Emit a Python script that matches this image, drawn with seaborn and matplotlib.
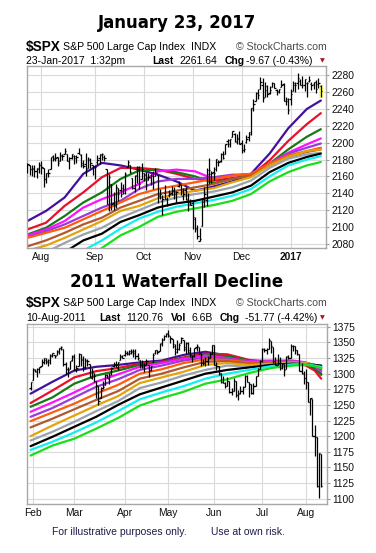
import numpy as np
import pandas as pd
import matplotlib
matplotlib.use('Agg')
import matplotlib.pyplot as plt
import seaborn as sns

sns.set_style('white')
plt.rcParams['font.family'] = ['Liberation Sans', 'DejaVu Sans']
plt.rcParams['text.color'] = 'black'

# ---------------- panel 1: Jul 2016 - Jan 2017 ----------------
days_a = pd.bdate_range('2016-07-22', '2017-01-23', freq='C',
                        holidays=['2016-09-05', '2016-11-24', '2016-12-26',
                                  '2017-01-02', '2017-01-16'])

open_a = [2166.5, 2173.7, 2168.9, 2169.8, 2166.1, 2168.8,
          2173.2, 2169.9, 2156.8, 2163.5, 2168.8, 2183.8, 2182.2, 2182.8, 2177.9, 2183.7, 2186.1, 2186.2,
          2177.8, 2181.9, 2184.2, 2181.6, 2187.8, 2185.1, 2173.3, 2175.1, 2170.2, 2179.5, 2173.6,
          2171.3, 2177.5, 2181.6, 2185.2, 2182.8, 2169.1, 2120.9, 2150.5, 2127.9, 2125.4, 2146.5,
          2144.0, 2145.9, 2144.6, 2170.9, 2173.3, 2158.5, 2146.0, 2161.9, 2168.9, 2156.5,
          2164.3, 2163.4, 2155.2, 2158.2, 2164.2, 2160.4, 2161.4, 2137.7, 2130.3, 2139.7, 2133.0,
          2138.3, 2140.8, 2142.5, 2139.4, 2148.5, 2149.7, 2137.0, 2144.1, 2132.2, 2129.8,
          2128.7, 2109.4, 2098.8, 2083.8, 2100.6, 2129.9, 2131.6, 2167.5, 2162.7, 2165.6, 2168.3,
          2177.5, 2178.6, 2186.8, 2186.4, 2201.6, 2198.6, 2206.3, 2210.2, 2200.8, 2205.0,
          2200.2, 2191.1, 2200.7, 2207.3, 2210.7, 2241.1, 2249.7, 2258.8, 2263.3, 2268.4, 2253.8,
          2266.8, 2259.2, 2266.5, 2270.5, 2262.9, 2260.3, 2266.2, 2270.2, 2249.5, 2251.6,
          2251.6, 2261.6, 2268.2, 2271.1, 2273.6, 2268.6, 2268.6, 2271.1, 2272.7, 2269.1, 2269.1,
          2271.9, 2270.0, 2267.8]
high_a = [2175.6, 2173.7, 2173.5, 2174.0, 2170.2, 2177.1,
          2178.3, 2170.2, 2163.8, 2168.2, 2182.9, 2185.4, 2187.7, 2183.4, 2188.5, 2186.3, 2193.8, 2186.2,
          2183.1, 2187.0, 2185.0, 2185.2, 2193.4, 2186.7, 2179.0, 2187.9, 2183.5, 2182.3, 2173.8,
          2173.6, 2184.9, 2186.6, 2187.9, 2184.9, 2169.1, 2163.3, 2150.5, 2141.3, 2151.3, 2146.5,
          2153.6, 2150.8, 2165.1, 2180.0, 2173.8, 2158.5, 2161.1, 2172.4, 2172.7, 2175.3,
          2164.4, 2165.5, 2163.9, 2162.9, 2165.9, 2169.6, 2161.6, 2145.4, 2138.2, 2149.2, 2135.6,
          2144.4, 2148.4, 2147.2, 2142.6, 2154.8, 2151.4, 2145.7, 2147.1, 2140.7, 2133.3,
          2131.5, 2111.8, 2102.6, 2099.1, 2132.0, 2146.9, 2170.1, 2182.3, 2165.9, 2171.4, 2180.8,
          2179.2, 2188.1, 2189.9, 2198.7, 2204.8, 2204.7, 2213.4, 2211.1, 2210.5, 2214.1,
          2202.6, 2198.0, 2209.4, 2212.8, 2241.6, 2251.7, 2259.8, 2264.0, 2277.5, 2276.2, 2272.1,
          2268.1, 2267.5, 2272.6, 2271.2, 2263.2, 2263.8, 2273.8, 2271.3, 2254.5, 2253.6,
          2263.9, 2272.8, 2271.5, 2282.1, 2275.5, 2279.3, 2275.3, 2271.8, 2278.7, 2272.1, 2272.0,
          2274.3, 2277.0, 2268.0]
low_a = [2164.0, 2161.4, 2160.2, 2159.1, 2157.8, 2163.5,
         2163.3, 2147.6, 2152.6, 2159.1, 2168.8, 2177.9, 2178.6, 2172.0, 2177.9, 2179.4, 2186.1, 2178.1,
         2168.5, 2180.5, 2175.1, 2176.0, 2186.8, 2171.3, 2169.7, 2160.4, 2170.2, 2170.4, 2161.4,
         2157.1, 2173.6, 2175.1, 2179.1, 2177.9, 2127.8, 2119.1, 2120.3, 2119.6, 2122.4, 2131.2,
         2135.9, 2139.2, 2139.6, 2170.9, 2164.0, 2145.0, 2141.6, 2151.8, 2145.2, 2156.5,
         2154.8, 2144.0, 2155.2, 2150.3, 2144.9, 2160.4, 2128.8, 2132.8, 2114.7, 2133.0, 2124.4,
         2135.5, 2138.2, 2133.4, 2130.1, 2146.9, 2137.4, 2131.6, 2132.5, 2119.4, 2125.5,
         2097.9, 2094.0, 2085.2, 2083.8, 2100.6, 2123.6, 2125.4, 2151.2, 2152.5, 2156.1, 2166.4,
         2172.2, 2176.6, 2180.4, 2186.4, 2194.5, 2194.5, 2206.3, 2200.4, 2198.9, 2198.8,
         2187.4, 2188.4, 2200.0, 2202.5, 2208.9, 2237.6, 2249.2, 2252.4, 2263.3, 2248.4, 2253.8,
         2254.2, 2258.2, 2266.2, 2265.2, 2256.1, 2258.8, 2266.2, 2249.1, 2244.6, 2233.6,
         2245.1, 2261.6, 2260.5, 2264.1, 2268.8, 2265.3, 2260.8, 2254.3, 2271.5, 2262.8, 2263.4,
         2258.4, 2265.0, 2254.8]
close_a = [2175.0, 2168.5, 2169.2, 2166.6, 2170.1, 2173.6,
           2170.8, 2157.0, 2163.8, 2164.3, 2182.9, 2180.9, 2181.7, 2175.5, 2185.8, 2184.1, 2190.2, 2178.2,
           2182.2, 2187.0, 2183.9, 2182.6, 2186.9, 2175.4, 2172.5, 2169.0, 2180.4, 2176.1, 2171.0,
           2170.9, 2180.0, 2186.5, 2186.2, 2181.3, 2127.8, 2159.0, 2127.0, 2125.8, 2147.3, 2139.2,
           2139.1, 2139.8, 2163.1, 2177.2, 2164.7, 2146.1, 2159.9, 2171.4, 2151.1, 2168.3,
           2161.2, 2150.5, 2159.7, 2160.8, 2153.7, 2163.7, 2136.7, 2139.2, 2132.6, 2133.0, 2126.5,
           2139.6, 2144.3, 2141.3, 2141.2, 2151.3, 2143.2, 2139.4, 2133.0, 2126.4, 2126.2,
           2111.7, 2097.9, 2088.7, 2085.2, 2131.5, 2139.6, 2163.3, 2167.5, 2164.5, 2164.2, 2180.4,
           2176.9, 2187.1, 2181.9, 2198.2, 2202.9, 2204.7, 2213.4, 2201.7, 2204.7, 2198.8,
           2191.1, 2192.0, 2204.7, 2212.2, 2241.4, 2246.2, 2259.5, 2257.0, 2271.7, 2253.3, 2262.0,
           2258.1, 2262.5, 2270.8, 2265.2, 2261.0, 2263.8, 2268.9, 2249.9, 2249.3, 2238.8,
           2257.8, 2270.8, 2269.0, 2277.0, 2268.9, 2268.9, 2275.3, 2270.4, 2274.6, 2267.9, 2271.9,
           2263.7, 2271.3, 2261.6]

# moving averages read at these trading-day positions
ma_days_a = [0, 8, 16, 24, 32, 40, 48, 56, 64, 72, 80, 88, 96, 104, 112, 120, 126]
indigo_a = [2107, 2119, 2135, 2163, 2176, 2173, 2168, 2162, 2154, 2143, 2148, 2154, 2163, 2187, 2217, 2240, 2250]
red_a = [2097, 2105, 2125, 2141, 2159, 2170, 2170, 2168, 2163, 2157, 2155, 2158, 2161, 2179, 2202, 2222, 2235]
green_a = [2091, 2099, 2113, 2129, 2141, 2157, 2167, 2168, 2165, 2160, 2152, 2157, 2161, 2175, 2192, 2207, 2216]
magenta_a = [2090, 2097, 2107, 2123, 2133, 2141, 2151, 2166, 2168, 2166, 2157, 2161, 2163, 2175, 2188, 2198, 2205]
purple_a = [2088, 2095, 2103, 2113, 2123, 2131, 2145, 2154, 2157, 2157, 2159, 2162, 2162, 2173, 2187, 2194, 2199]
orange_a = [2087, 2093, 2099, 2109, 2119, 2129, 2139, 2145, 2149, 2153, 2157, 2161, 2163, 2175, 2185, 2190, 2194]
brown_a = [2077, 2084, 2093, 2103, 2111, 2123, 2131, 2139, 2143, 2147, 2151, 2157, 2161, 2173, 2183, 2189, 2192]
gold_a = [2072, 2078, 2087, 2097, 2107, 2119, 2125, 2134, 2139, 2143, 2146, 2153, 2159, 2173, 2183, 2190, 2192]
gray_a = [2062, 2070, 2081, 2091, 2099, 2111, 2120, 2129, 2135, 2139, 2142, 2147, 2155, 2170, 2181, 2186, 2188]
black_a = [2045, 2057, 2070, 2084, 2092, 2106, 2114, 2123, 2128, 2131, 2136, 2141, 2149, 2165, 2176, 2183, 2187]
cyan_a = [2030, 2042, 2056, 2072, 2084, 2098, 2110, 2118, 2124, 2128, 2132, 2137, 2145, 2160, 2173, 2180, 2184]
lime_a = [2020, 2032, 2045, 2060, 2075, 2090, 2100, 2112, 2118, 2122, 2126, 2131, 2139, 2154, 2165, 2173, 2177]

# ---------------- panel 2: Jan 2011 - Aug 2011 ----------------
days_b = pd.bdate_range('2011-01-31', '2011-08-10', freq='C',
                        holidays=['2011-02-21', '2011-04-22', '2011-05-30', '2011-07-04'])

open_b = [1276.5,
          1289.1, 1305.9, 1302.8, 1307.0, 1311.9, 1318.8, 1322.5, 1318.1, 1318.7, 1328.7, 1330.4, 1329.5,
          1334.4, 1340.4, 1338.9, 1315.4, 1307.1, 1307.3, 1321.6,
          1328.6, 1305.5, 1312.4, 1330.7, 1322.7, 1311.1, 1319.9, 1315.7, 1293.4, 1301.2, 1288.5, 1279.5,
          1261.6, 1276.7, 1282.0, 1298.3, 1292.2, 1300.6, 1311.8, 1315.5, 1309.4, 1321.9, 1327.4,
          1329.5, 1333.6, 1332.0, 1335.9, 1334.8, 1336.2, 1329.0, 1322.0, 1314.0, 1311.1, 1314.5, 1313.4,
          1306.0, 1319.1, 1333.2, 1337.1, 1336.8, 1348.4, 1353.9, 1360.1,
          1365.2, 1359.8, 1355.9, 1344.2, 1340.2, 1340.2, 1348.3, 1354.5, 1339.4, 1348.7, 1334.8, 1326.1,
          1328.5, 1342.4, 1342.0, 1333.1, 1317.7, 1316.4, 1320.6, 1325.7, 1331.1,
          1345.2, 1314.6, 1312.9, 1300.3, 1286.3, 1284.6, 1279.6, 1288.3, 1271.3, 1272.2, 1287.9, 1265.5,
          1268.6, 1271.5, 1278.4, 1295.5, 1286.6, 1283.0, 1268.4, 1280.2, 1296.8, 1307.6,
          1320.6, 1339.6, 1337.6, 1339.6, 1352.4, 1343.3, 1319.6, 1314.5, 1317.7, 1308.9, 1315.9, 1307.1,
          1328.7, 1325.7, 1343.8, 1344.3, 1337.4, 1331.9, 1304.8, 1300.1,
          1292.6, 1286.6, 1254.3, 1260.2, 1200.3, 1198.5, 1120.2, 1171.8]
high_b = [1287.2,
          1308.9, 1307.6, 1308.6, 1311.0, 1322.9, 1324.9, 1324.5, 1322.8, 1330.8, 1333.0, 1330.4, 1337.6,
          1341.5, 1344.1, 1338.9, 1317.9, 1310.9, 1320.6, 1329.4,
          1332.1, 1314.2, 1332.3, 1331.1, 1327.7, 1325.7, 1323.2, 1315.7, 1308.4, 1301.2, 1288.5, 1280.9,
          1278.9, 1288.9, 1299.2, 1299.4, 1300.5, 1311.3, 1319.2, 1319.7, 1319.4, 1331.7, 1329.8,
          1337.9, 1336.7, 1338.2, 1339.4, 1338.8, 1339.5, 1333.2, 1322.0, 1321.4, 1316.8, 1322.9, 1313.4,
          1313.0, 1332.7, 1337.5, 1337.6, 1349.6, 1357.5, 1361.7, 1364.6,
          1370.6, 1360.8, 1355.9, 1348.0, 1354.4, 1349.4, 1359.4, 1354.5, 1351.1, 1350.5, 1343.3, 1330.4,
          1341.8, 1346.8, 1342.0, 1333.1, 1323.7, 1325.9, 1328.5, 1334.6, 1345.2,
          1345.2, 1318.0, 1312.9, 1300.3, 1296.2, 1287.0, 1294.5, 1288.3, 1277.0, 1292.5, 1287.9, 1274.1,
          1279.8, 1280.4, 1297.6, 1298.6, 1286.6, 1283.9, 1284.9, 1296.8, 1309.2, 1322.0,
          1341.0, 1340.9, 1340.9, 1356.5, 1352.4, 1343.3, 1327.2, 1331.5, 1326.9, 1317.7, 1315.9, 1328.1,
          1330.4, 1347.0, 1346.1, 1344.3, 1338.5, 1331.9, 1316.3, 1304.2,
          1307.4, 1286.6, 1261.2, 1260.2, 1218.1, 1198.5, 1172.9, 1171.8]
low_b = [1274.0,
         1289.1, 1302.6, 1294.8, 1301.7, 1311.9, 1316.0, 1314.9, 1311.7, 1316.1, 1326.9, 1324.6, 1329.5,
         1331.0, 1338.1, 1312.3, 1299.6, 1294.3, 1307.3, 1320.6,
         1306.1, 1302.6, 1312.4, 1312.6, 1304.0, 1306.9, 1312.3, 1294.2, 1292.0, 1286.4, 1261.1, 1249.1,
         1261.6, 1276.2, 1282.0, 1292.7, 1284.1, 1297.7, 1310.2, 1310.2, 1305.3, 1321.9, 1325.0,
         1328.9, 1329.1, 1330.0, 1331.1, 1326.6, 1322.9, 1321.8, 1309.5, 1309.2, 1302.4, 1313.7, 1294.7,
         1304.0, 1319.1, 1332.0, 1331.5, 1336.8, 1344.3, 1353.6, 1358.7,
         1358.6, 1349.5, 1341.5, 1329.2, 1333.6, 1338.6, 1348.3, 1336.4, 1332.0, 1333.4, 1327.3, 1318.5,
         1326.6, 1336.9, 1330.7, 1312.9, 1313.9, 1311.8, 1314.4, 1325.7, 1331.1,
         1313.7, 1305.6, 1297.9, 1284.7, 1284.7, 1277.4, 1279.6, 1268.3, 1265.6, 1272.2, 1261.9, 1258.1,
         1267.4, 1267.6, 1278.4, 1286.8, 1262.9, 1267.2, 1267.5, 1280.2, 1296.8, 1307.6,
         1318.2, 1334.3, 1330.9, 1339.6, 1333.7, 1316.4, 1313.3, 1314.5, 1306.5, 1307.4, 1295.9, 1307.1,
         1323.7, 1325.7, 1337.0, 1331.1, 1329.6, 1303.5, 1299.2, 1282.9,
         1274.7, 1254.0, 1234.6, 1199.5, 1168.1, 1119.3, 1101.5, 1118.0]
close_b = [1286.1,
           1307.6, 1304.0, 1307.1, 1310.9, 1319.1, 1324.6, 1320.9, 1321.9, 1329.2, 1332.3, 1328.0, 1336.3,
           1340.4, 1343.0, 1315.4, 1307.4, 1306.1, 1319.9, 1327.2,
           1306.3, 1308.4, 1331.0, 1321.2, 1310.1, 1321.8, 1320.0, 1295.1, 1304.3, 1296.4, 1281.9, 1256.9,
           1273.7, 1279.2, 1298.4, 1293.8, 1297.5, 1309.7, 1313.8, 1310.2, 1319.4, 1328.3, 1325.8,
           1332.4, 1332.9, 1332.6, 1335.5, 1333.5, 1328.2, 1324.5, 1314.2, 1314.4, 1314.5, 1319.7, 1305.1,
           1312.6, 1330.4, 1337.4, 1335.3, 1347.2, 1355.7, 1360.5, 1363.6,
           1361.2, 1356.6, 1347.3, 1335.1, 1340.2, 1346.3, 1357.2, 1342.1, 1348.7, 1337.8, 1329.5, 1329.0,
           1340.7, 1343.6, 1333.3, 1317.4, 1316.3, 1320.5, 1325.7, 1331.1, 1345.2,
           1314.6, 1312.9, 1300.2, 1286.2, 1284.9, 1279.6, 1289.0, 1271.0, 1271.8, 1287.9, 1265.4, 1267.6,
           1271.5, 1278.4, 1295.5, 1287.1, 1283.5, 1268.5, 1280.1, 1296.7, 1307.4, 1320.6,
           1339.7, 1337.9, 1339.2, 1353.2, 1343.8, 1319.5, 1313.6, 1317.7, 1308.9, 1316.1, 1305.4, 1326.7,
           1325.8, 1343.8, 1345.0, 1337.4, 1331.9, 1304.9, 1300.7, 1292.3,
           1286.9, 1254.1, 1260.3, 1200.1, 1199.4, 1119.5, 1172.5, 1120.8]

ma_days_b = [0, 10, 20, 30, 40, 50, 60, 70, 80, 90, 100, 110, 120, 126, 130, 133]
indigo_b = [1268, 1287, 1305, 1311, 1314, 1318, 1321, 1330, 1335, 1329, 1318, 1315, 1318, 1314, 1307, 1300]
red_b = [1253, 1273, 1294, 1304, 1309, 1316, 1319, 1326, 1332, 1331, 1322, 1318, 1319, 1313, 1305, 1292]
green_b = [1247, 1262, 1284, 1297, 1305, 1314, 1318, 1325, 1330, 1328, 1321, 1320, 1320, 1316, 1309, 1298]
magenta_b = [1239, 1254, 1270, 1287, 1299, 1311, 1317, 1324, 1329, 1325, 1320, 1321, 1321, 1318, 1312, 1304]
purple_b = [1231, 1245, 1262, 1279, 1291, 1306, 1313, 1321, 1326, 1324, 1319, 1319, 1320, 1317, 1313, 1306]
orange_b = [1224, 1238, 1252, 1268, 1282, 1300, 1307, 1317, 1323, 1322, 1318, 1318, 1319, 1317, 1314, 1309]
brown_b = [1214, 1228, 1243, 1258, 1272, 1292, 1300, 1310, 1319, 1320, 1316, 1317, 1318, 1317, 1314, 1309]
gold_b = [1200, 1217, 1233, 1249, 1264, 1285, 1294, 1303, 1314, 1317, 1314, 1316, 1318, 1317, 1314, 1310]
gray_b = [1193, 1207, 1223, 1240, 1256, 1277, 1286, 1297, 1306, 1313, 1311, 1314, 1317, 1316, 1314, 1312]
black_b = [1184, 1199, 1215, 1231, 1250, 1267, 1278, 1289, 1300, 1306, 1310, 1314, 1316, 1315, 1314, 1313]
cyan_b = [1178, 1191, 1206, 1222, 1240, 1259, 1270, 1280, 1292, 1300, 1306, 1312, 1315, 1315, 1313, 1311]
lime_b = [1169, 1185, 1196, 1212, 1229, 1249, 1261, 1271, 1284, 1291, 1301, 1309, 1313, 1314, 1312, 1309]

ma_names = ['indigo', 'red', 'green', 'magenta', 'purple', 'orange',
            'brown', 'gold', 'gray', 'black', 'cyan', 'lime']
ma_colors = ['#43109E', '#E8102A', '#147A14', '#FF10FF', '#9B3AD8', '#FF5B0A',
             '#B0582E', '#E3A20C', '#9AA3AD', '#000000', '#10F0F0', '#18E018']


def ma_frame(days, series):
    rows = []
    for name, vals in zip(ma_names, series):
        for d, v in zip(days, vals):
            rows.append((d, v, name))
    return pd.DataFrame(rows, columns=['day', 'value', 'ma'])


def draw_panel(ax, days, o, h, l, c, ma_df, ylim, yticks, xlim):
    x = np.arange(len(days))
    sns.lineplot(data=ma_df, x='day', y='value', hue='ma', hue_order=ma_names,
                 palette=dict(zip(ma_names, ma_colors)), linewidth=1.6,
                 legend=False, errorbar=None, ax=ax, zorder=2)
    ax.vlines(x, l, h, color='black', lw=0.9, zorder=3)
    ax.hlines(o, x - 0.55, x, color='black', lw=0.9, zorder=3)
    ax.hlines(c, x, x + 0.55, color='black', lw=0.9, zorder=3)

    month = pd.Series(days.month)
    starts = np.where(month.diff().fillna(0) != 0)[0]
    labels = [d.strftime('%b') if d.month != 1 else d.strftime('%Y') for d in days[starts]]

    ax.set_xlim(*xlim)
    ax.set_ylim(*ylim)
    ax.set_xticks(starts)
    ax.set_xticklabels(labels)
    for t in ax.get_xticklabels():
        if t.get_text().isdigit():
            t.set_fontweight('bold')
    ax.set_yticks(yticks)
    ax.yaxis.tick_right()
    ax.tick_params(axis='y', labelsize=7.4, length=2, pad=2, color='#999999', labelcolor='#111111')
    ax.tick_params(axis='x', labelsize=7.4, length=0, pad=3, labelcolor='#111111')
    ax.grid(True, color='#DADADA', lw=0.8)
    ax.set_axisbelow(True)
    for s in ax.spines.values():
        s.set_color('#A8A8A8')
        s.set_linewidth(1)
    ax.set_xlabel('')
    ax.set_ylabel('')
    return x


W, H = 376, 553
fig = plt.figure(figsize=(W / 100, H / 100), dpi=100)


def px(x, y):
    return x / W, 1 - y / H


def put(x, y, s, **kw):
    kw.setdefault('fontsize', 7.5)
    kw.setdefault('va', 'center')
    kw.setdefault('color', 'black')
    fig.text(*px(x, y), s, **kw)


# top panel
ax1 = fig.add_axes([26.7 / W, 1 - 248 / H, (325.7 - 26.7) / W, (248 - 66) / H])
ma_a = ma_frame(ma_days_a, [indigo_a, red_a, green_a, magenta_a, purple_a, orange_a,
                            brown_a, gold_a, gray_a, black_a, cyan_a, lime_a])
xa = draw_panel(ax1, days_a, open_a, high_a, low_a, close_a, ma_a,
                (2075, 2291), list(range(2080, 2281, 20)), (-0.3, 128.1))
last = len(days_a) - 1
ax1.bar(xa[last], high_a[last] - low_a[last] + 4, bottom=low_a[last] - 2, width=2.0,
        color='#FFFF44', zorder=1.5)

# bottom panel
ax2 = fig.add_axes([27.3 / W, 1 - 504.3 / H, (326.7 - 27.3) / W, (504.3 - 324.3) / H])
ma_b = ma_frame(ma_days_b, [indigo_b, red_b, green_b, magenta_b, purple_b, orange_b,
                            brown_b, gold_b, gray_b, black_b, cyan_b, lime_b])
draw_panel(ax2, days_b, open_b, high_b, low_b, close_b, ma_b,
           (1091, 1379), list(range(1100, 1376, 25)), (-1.5, 135.5))

# titles and header texts
title_kw = dict(family='DejaVu Sans', fontweight='heavy', fontsize=12, ha='center')
put(177, 23, 'January 23, 2017', **title_kw)
put(177, 282, '2011 Waterfall Decline', **title_kw)

for y0, y1 in [(47, 61), (303.3, 317.7)]:
    put(26, y0, '$SPX', fontsize=9.8, fontweight='bold')
    put(63.5, y0, 'S&P 500 Large Cap Index', fontsize=7.6)
    put(191.5, y0, 'INDX', fontsize=7.6)
    put(326.5, y0, '\u00a9 StockCharts.com', fontsize=7.6, ha='right', color='#4A4A4A')
    put(322, y1, '\u25bc', fontsize=4.5, ha='center', color='#A5102A', family='DejaVu Sans')

put(26, 61, '23-Jan-2017  1:32pm')
put(152.7, 61, 'Last', fontweight='bold')
put(179.5, 61, '2261.64')
put(225, 61, 'Chg', fontweight='bold')
put(246, 61, '-9.67 (-0.43%)')

put(26, 317.7, '10-Aug-2011')
put(99.3, 317.7, 'Last', fontweight='bold')
put(126.7, 317.7, '1120.76')
put(171, 317.7, 'Vol', fontweight='bold')
put(191.7, 317.7, '6.6B')
put(220, 317.7, 'Chg', fontweight='bold')
put(245, 317.7, '-51.77 (-4.42%)')

put(51.7, 532, 'For illustrative purposes only.', color='#1C1C48')
put(211, 532, 'Use at own risk.', color='#1C1C48')

fig.savefig('out.png', dpi=100)
